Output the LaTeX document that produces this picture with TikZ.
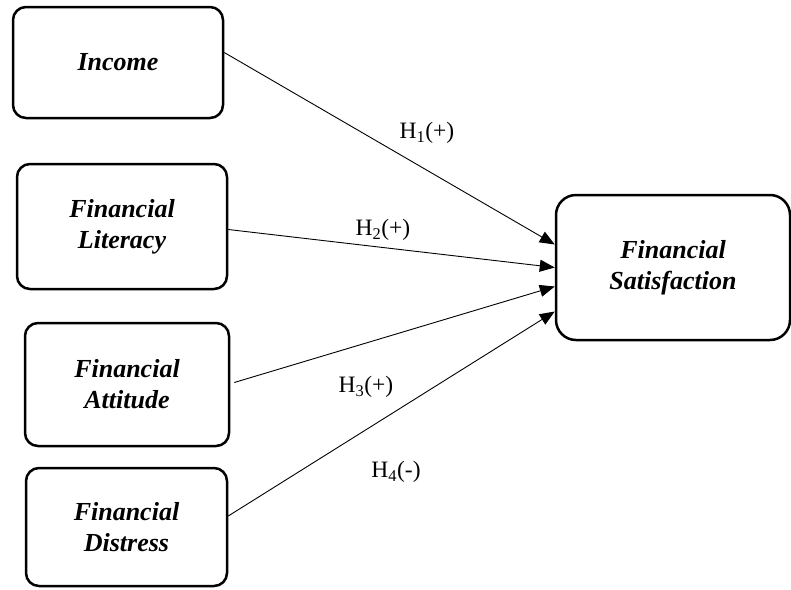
\documentclass[tikz,border=0pt]{standalone}
\usepackage{fontspec}
\setmainfont{Liberation Serif}
\usetikzlibrary{arrows.meta}

\begin{document}
\begin{tikzpicture}[x=1pt, y=-1pt,
      varbox/.style={draw, line width=2.5pt, rounded corners=13pt, align=center,
        font=\fontsize{26}{31}\selectfont\bfseries\itshape},
      path/.style={line width=0.9pt, -{Triangle[length=15pt, width=12pt]}},
      hyp/.style={font=\fontsize{23.5}{28}\selectfont}]
      \useasboundingbox (0,0) rectangle (791,589);

      \node[varbox, minimum width=210pt, minimum height=111pt] (inc) at (118,62.5) {Income};
      \node[varbox, minimum width=210pt, minimum height=125pt] (lit) at (122,226.5) {Financial\\Literacy};
      \node[varbox, minimum width=204pt, minimum height=123pt] (att) at (127,384.5) {Financial\\Attitude};
      \node[varbox, minimum width=201pt, minimum height=118pt] (dis) at (126.5,527) {Financial\\Distress};
      \node[varbox, rounded corners=20pt, minimum width=234pt, minimum height=145pt] (sat) at (673,267.5) {Financial\\Satisfaction};

      \draw[path] ([yshift=10pt]inc.east) -- ([yshift=23pt]sat.west);
      \draw[path] ([yshift=-3pt]lit.east) -- ([yshift=0pt]sat.west);
      \draw[path] ([xshift=4pt, yshift=2pt]att.east) -- ([yshift=-19pt]sat.west);
      \draw[path] ([yshift=11pt]dis.east) -- ([yshift=-44pt]sat.west);

      \node[hyp] (h1) at (427,133) {H\textsubscript{1}(+)};
      \node[hyp] (h2) at (383,230) {H\textsubscript{2}(+)};
      \node[hyp] (h3) at (366,387) {H\textsubscript{3}(+)};
      \node[hyp] (h4) at (396,472) {H\textsubscript{4}(-)};
\end{tikzpicture}
\end{document}
